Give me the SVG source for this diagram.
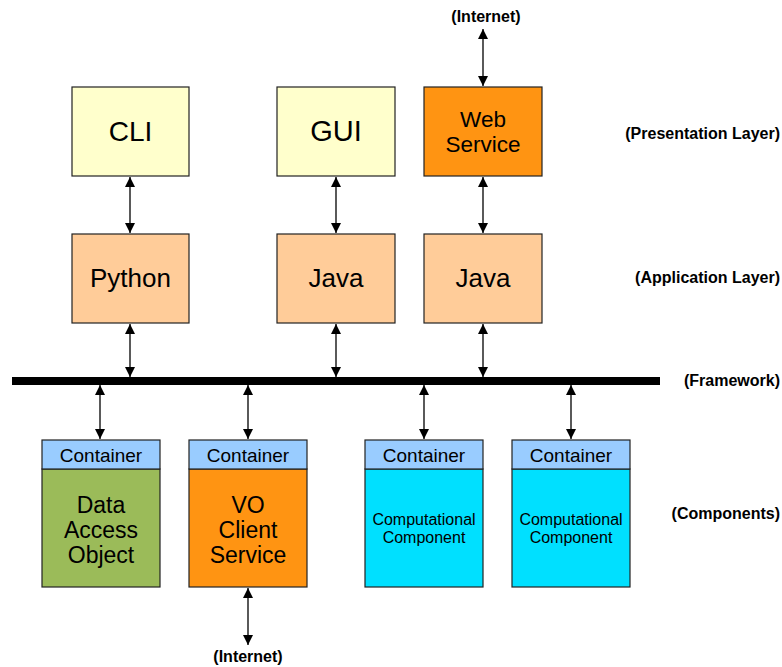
<svg xmlns="http://www.w3.org/2000/svg" width="782" height="667" viewBox="0 0 782 667">
<defs>
<marker id="ah" viewBox="0 0 10 10" refX="10" refY="5" markerWidth="10" markerHeight="10" markerUnits="userSpaceOnUse" orient="auto-start-reverse">
<path d="M0,0 L10,5 L0,10 Z" fill="#000"/>
</marker>
</defs>
<style>
.box{stroke:#222;stroke-width:1.2}
.t{font-family:"Liberation Sans",Arial,sans-serif;fill:#000;text-anchor:middle}
.lbl{font-family:"Liberation Sans",Arial,sans-serif;font-weight:bold;font-size:16px;fill:#000;text-anchor:end}
.c{stroke:#000;stroke-width:1.3;fill:none;marker-start:url(#ah);marker-end:url(#ah)}
</style>
<rect width="782" height="667" fill="#fff"/>
<g id="connectors">
<line class="c" x1="483" y1="29" x2="483" y2="86"/>
<line class="c" x1="130" y1="177" x2="130" y2="233"/>
<line class="c" x1="336" y1="177" x2="336" y2="233"/>
<line class="c" x1="483" y1="177" x2="483" y2="233"/>
<line class="c" x1="130" y1="324" x2="130" y2="377"/>
<line class="c" x1="336" y1="324" x2="336" y2="377"/>
<line class="c" x1="483" y1="324" x2="483" y2="377"/>
<line class="c" x1="100" y1="385" x2="100" y2="439"/>
<line class="c" x1="248" y1="385" x2="248" y2="439"/>
<line class="c" x1="424" y1="385" x2="424" y2="439"/>
<line class="c" x1="571" y1="385" x2="571" y2="439"/>
<line class="c" x1="248" y1="588" x2="248" y2="645"/>
</g>
<g id="framework"><rect x="12" y="377" width="648" height="8" fill="#000"/></g>
<g id="cli"><rect class="box" x="72" y="87" width="117" height="89" fill="#FFFFCC"/><text class="t" x="130.5" y="141" font-size="28">CLI</text></g>
<g id="gui"><rect class="box" x="277" y="87" width="118" height="89" fill="#FFFFCC"/><text class="t" x="336" y="141" font-size="29">GUI</text></g>
<g id="web"><rect class="box" x="424" y="87" width="118" height="89" fill="#FF9412"/><text class="t" x="483" y="127" font-size="22.5">Web</text><text class="t" x="483" y="152" font-size="22.5">Service</text></g>
<g id="python"><rect class="box" x="72" y="234" width="117" height="89" fill="#FFCC99"/><text class="t" x="130.5" y="287" font-size="26">Python</text></g>
<g id="java1"><rect class="box" x="277" y="234" width="118" height="89" fill="#FFCC99"/><text class="t" x="336" y="287" font-size="26">Java</text></g>
<g id="java2"><rect class="box" x="424" y="234" width="118" height="89" fill="#FFCC99"/><text class="t" x="483" y="287" font-size="26">Java</text></g>
<g id="dao"><rect class="box" x="42" y="469" width="118" height="118" fill="#9BBB59"/><rect class="box" x="42" y="440" width="118" height="29" fill="#99CCFF"/><text class="t" x="101" y="462" font-size="19">Container</text><text class="t" x="101" y="513" font-size="23">Data</text><text class="t" x="101" y="538" font-size="23">Access</text><text class="t" x="101" y="563" font-size="23">Object</text></g>
<g id="vo"><rect class="box" x="189" y="469" width="118" height="118" fill="#FF9412"/><rect class="box" x="189" y="440" width="118" height="29" fill="#99CCFF"/><text class="t" x="248" y="462" font-size="19">Container</text><text class="t" x="248" y="513" font-size="23">VO</text><text class="t" x="248" y="538" font-size="23">Client</text><text class="t" x="248" y="563" font-size="23">Service</text></g>
<g id="comp1"><rect class="box" x="365" y="469" width="118" height="118" fill="#00E0FF"/><rect class="box" x="365" y="440" width="118" height="29" fill="#99CCFF"/><text class="t" x="424" y="462" font-size="19">Container</text><text class="t" x="424" y="525" font-size="16">Computational</text><text class="t" x="424" y="543" font-size="16">Component</text></g>
<g id="comp2"><rect class="box" x="512" y="469" width="118" height="118" fill="#00E0FF"/><rect class="box" x="512" y="440" width="118" height="29" fill="#99CCFF"/><text class="t" x="571" y="462" font-size="19">Container</text><text class="t" x="571" y="525" font-size="16">Computational</text><text class="t" x="571" y="543" font-size="16">Component</text></g>
<g id="labels">
<text class="t" x="486" y="22" font-size="16" font-weight="bold">(Internet)</text>
<text class="t" x="248" y="662" font-size="16" font-weight="bold">(Internet)</text>
<text class="lbl" x="780" y="139">(Presentation Layer)</text>
<text class="lbl" x="780" y="283">(Application Layer)</text>
<text class="lbl" x="780" y="386">(Framework)</text>
<text class="lbl" x="780" y="519">(Components)</text>
</g>
</svg>
